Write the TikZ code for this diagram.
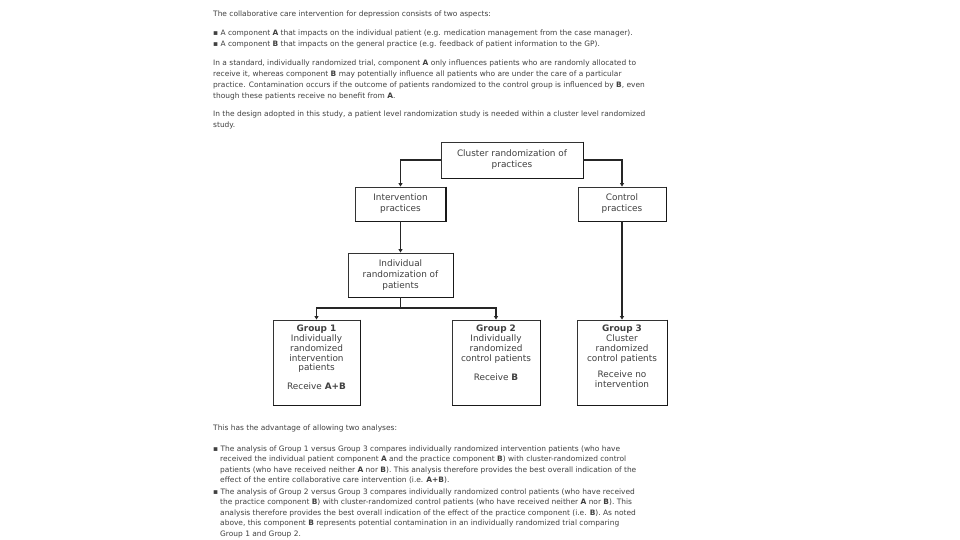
\documentclass[tikz,border=0pt]{standalone}
\usepackage{fontspec}
\setmainfont{DejaVu Sans}
\usetikzlibrary{arrows.meta}
\begin{document}
\begin{tikzpicture}[x=1pt,y=-1pt,
  para/.style={anchor=west, inner sep=0pt, font=\fontsize{7.45}{11}\selectfont, text=black!75},
  box/.style={draw=black!80, line width=0.9pt, inner sep=0pt, align=center,
    font=\fontsize{8.9}{11}\selectfont, text=black!75},
  gtext/.style={anchor=north, inner sep=0pt, align=center,
    font=\fontsize{8.9}{9.9}\selectfont, text=black!75},
  edge/.style={line width=1.6pt, black!90},
  conn/.style={line width=1.1pt, black!85},
  arr/.style={conn, -{Triangle[width=4pt,length=3.5pt]}}]
\useasboundingbox (0,0) rectangle (960,540);
\fill[white] (0,0) rectangle (960,540);

% top text
\node[para] (t1) at (213,14) {The collaborative care intervention for depression consists of two aspects:};
\node[para] (t2) at (213,33) {▪ A component \textbf{A} that impacts on the individual patient (e.g. medication management from the case manager).};
\node[para] (t3) at (213,44) {▪ A component \textbf{B} that impacts on the general practice (e.g. feedback of patient information to the GP).};
\node[para] (t4) at (213,63) {In a standard, individually randomized trial, component \textbf{A} only influences patients who are randomly allocated to};
\node[para] (t5) at (213,74) {receive it, whereas component \textbf{B} may potentially influence all patients who are under the care of a particular};
\node[para] (t6) at (213,85) {practice. Contamination occurs if the outcome of patients randomized to the control group is influenced by \textbf{B}, even};
\node[para] (t7) at (213,96) {though these patients receive no benefit from \textbf{A}.};
\node[para] (t8) at (213,114) {In the design adopted in this study, a patient level randomization study is needed within a cluster level randomized};
\node[para] (t9) at (213,125) {study.};

% boxes
\node[box, minimum width=142pt, minimum height=36pt] (cl) at (512,160) {Cluster randomization of\\practices};
\node[box, minimum width=90pt, minimum height=34pt] (int) at (400.5,204) {Intervention\\practices};
\node[box, minimum width=88pt, minimum height=34pt] (ctl) at (622,204) {Control\\practices};
\node[box, minimum width=105pt, minimum height=44pt] (ind) at (400.5,275) {Individual\\randomization of\\patients};
\node[box, minimum width=87pt, minimum height=85pt] (g1) at (316.5,362.5) {};
\node[box, minimum width=88pt, minimum height=85pt] (g2) at (496,362.5) {};
\node[box, minimum width=90pt, minimum height=85pt] (g3) at (622,362.5) {};

\node[gtext] (g1t) at ([yshift=-5pt]g1.north) {\textbf{Group 1}\\Individually\\randomized\\intervention\\patients\\[9pt]Receive \textbf{A+B}};
\node[gtext] (g2t) at ([yshift=-5pt]g2.north) {\textbf{Group 2}\\Individually\\randomized\\control patients\\[10pt]Receive \textbf{B}};
\node[gtext] (g3t) at ([yshift=-5pt]g3.north) {\textbf{Group 3}\\Cluster\\randomized\\control patients\\[7pt]Receive no\\intervention};

\foreach \n in {cl,int,ctl,ind,g1,g2,g3}
  \draw[edge] (\n.north east) -- (\n.south east) -- (\n.south west);

% connectors
\draw[arr] (cl.west) -| (int.north);
\draw[arr] (cl.east) -| (ctl.north);
\draw[arr] (int.south) -- (ind.north);
\draw[arr] (ctl.south) -- (g3.north);
\coordinate (sp) at (400.5,308);
\draw[conn] (ind.south) -- (sp);
\draw[arr] (sp) -| (g1.north);
\draw[arr] (sp) -| (g2.north);

% bottom text
\node[para] (b1) at (213,428) {This has the advantage of allowing two analyses:};
\node[para] (b2) at (213,449) {▪ The analysis of Group 1 versus Group 3 compares individually randomized intervention patients (who have};
\node[para] (b3) at (220,459.5) {received the individual patient component \textbf{A} and the practice component \textbf{B}) with cluster-randomized control};
\node[para] (b4) at (220,470) {patients (who have received neither \textbf{A} nor \textbf{B}). This analysis therefore provides the best overall indication of the};
\node[para] (b5) at (220,480.5) {effect of the entire collaborative care intervention (i.e. \textbf{A+B}).};
\node[para] (b6) at (213,492) {▪ The analysis of Group 2 versus Group 3 compares individually randomized control patients (who have received};
\node[para] (b7) at (220,502.5) {the practice component \textbf{B}) with cluster-randomized control patients (who have received neither \textbf{A} nor \textbf{B}). This};
\node[para] (b8) at (220,513) {analysis therefore provides the best overall indication of the effect of the practice component (i.e. \textbf{B}). As noted};
\node[para] (b9) at (220,523.5) {above, this component \textbf{B} represents potential contamination in an individually randomized trial comparing};
\node[para] (b10) at (220,534) {Group 1 and Group 2.};
\end{tikzpicture}
\end{document}
